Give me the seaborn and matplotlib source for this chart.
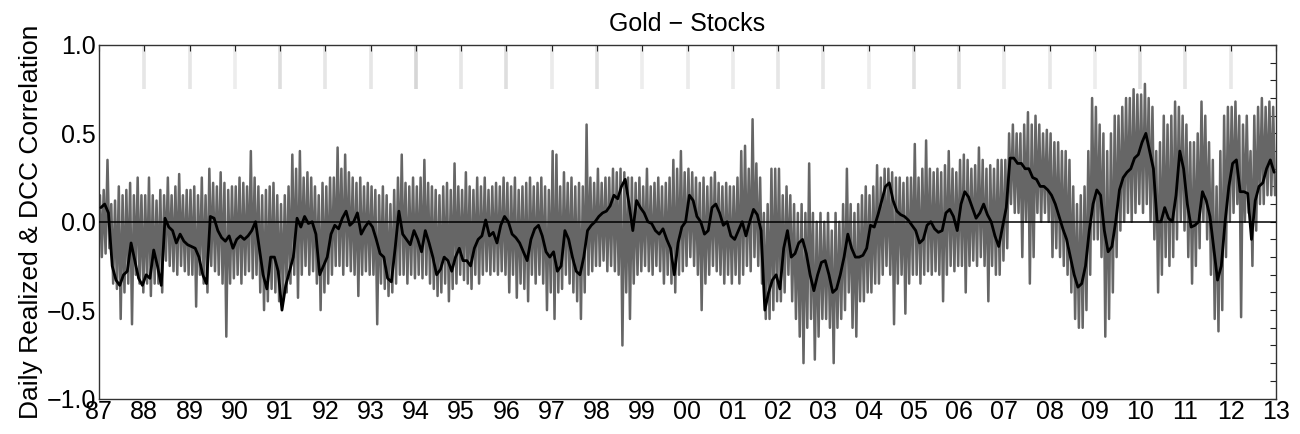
import matplotlib
matplotlib.use("Agg")
import matplotlib.pyplot as plt
from matplotlib.ticker import MultipleLocator, FixedLocator, FuncFormatter
import numpy as np
import pandas as pd
import seaborn as sns

# ---------------- data ----------------
start_year = 1987
end_year = 2013
tick_labels = ['87', '88', '89', '90', '91', '92', '93', '94', '95', '96', '97', '98', '99',
               '00', '01', '02', '03', '04', '05', '06', '07', '08', '09', '10', '11', '12', '13']

# DCC correlation, monthly (Jan..Dec per row)
dcc = [
    0.08, 0.10, 0.05, -0.25, -0.33, -0.36, -0.30, -0.28, -0.12, -0.22, -0.32, -0.36,   # 87
    -0.30, -0.32, -0.16, -0.25, -0.36, 0.02, -0.03, -0.05, -0.12, -0.07, -0.11, -0.13,  # 88
    -0.14, -0.15, -0.20, -0.30, -0.35, 0.03, 0.02, -0.05, -0.09, -0.11, -0.08, -0.15,   # 89
    -0.10, -0.08, -0.10, -0.08, -0.05, 0.00, -0.15, -0.30, -0.38, -0.20, -0.20, -0.28,  # 90
    -0.50, -0.36, -0.28, -0.20, 0.02, -0.03, 0.03, -0.01, 0.00, -0.07, -0.30, -0.25,    # 91
    -0.20, -0.07, -0.02, -0.04, 0.02, 0.06, -0.02, 0.00, 0.05, -0.07, -0.03, 0.00,      # 92
    -0.03, -0.10, -0.18, -0.20, -0.32, -0.34, -0.15, 0.06, -0.07, -0.10, -0.13, -0.05,  # 93
    -0.10, -0.17, -0.05, -0.12, -0.20, -0.30, -0.27, -0.20, -0.22, -0.28, -0.20, -0.15, # 94
    -0.22, -0.22, -0.25, -0.15, -0.10, -0.08, 0.01, -0.08, -0.06, -0.12, -0.02, 0.03,   # 95
    0.00, -0.07, -0.09, -0.12, -0.17, -0.22, -0.10, -0.04, -0.02, -0.08, -0.17, -0.20,  # 96
    -0.17, -0.28, -0.25, -0.05, -0.10, -0.20, -0.28, -0.30, -0.20, -0.05, -0.02, 0.00,  # 97
    0.03, 0.05, 0.06, 0.09, 0.15, 0.13, 0.20, 0.24, 0.10, -0.05, 0.12, 0.08,            # 98
    0.05, 0.00, -0.01, -0.05, -0.07, -0.04, -0.10, -0.15, -0.30, -0.12, -0.03, 0.00,    # 99
    0.15, 0.12, 0.03, 0.00, -0.07, -0.05, 0.08, 0.10, 0.05, -0.02, 0.00, -0.08,         # 00
    -0.10, -0.05, 0.00, -0.08, 0.00, 0.07, 0.04, -0.05, -0.50, -0.40, -0.33, -0.30,     # 01
    -0.38, -0.15, -0.05, -0.20, -0.18, -0.12, -0.10, -0.18, -0.30, -0.39, -0.30, -0.23, # 02
    -0.22, -0.30, -0.40, -0.38, -0.30, -0.20, -0.07, -0.15, -0.20, -0.20, -0.19, -0.15, # 03
    -0.02, -0.03, 0.04, 0.12, 0.20, 0.22, 0.12, 0.06, 0.04, 0.03, 0.01, -0.02,          # 04
    -0.05, -0.12, -0.10, -0.02, 0.00, -0.04, -0.06, -0.05, 0.05, 0.07, 0.03, -0.05,     # 05
    0.10, 0.17, 0.14, 0.08, 0.02, 0.05, 0.10, 0.04, 0.00, -0.08, -0.14, -0.03,          # 06
    0.08, 0.36, 0.36, 0.33, 0.33, 0.30, 0.30, 0.25, 0.24, 0.20, 0.20, 0.18,             # 07
    0.15, 0.10, 0.03, -0.04, -0.10, -0.20, -0.30, -0.37, -0.35, -0.25, -0.05, 0.10,     # 08
    0.18, 0.15, -0.05, -0.17, -0.14, 0.00, 0.18, 0.25, 0.28, 0.30, 0.36, 0.38,          # 09
    0.45, 0.50, 0.40, 0.30, 0.00, 0.00, 0.08, 0.02, 0.00, 0.15, 0.40, 0.30,             # 10
    0.10, -0.03, -0.02, 0.00, 0.17, 0.12, 0.03, -0.15, -0.33, -0.25, 0.00, 0.20,        # 11
    0.33, 0.35, 0.17, 0.17, 0.16, -0.10, 0.12, 0.20, 0.22, 0.30, 0.35, 0.28,            # 12
]

# Daily realized correlation: upper and lower extent of the band per month
realized_hi = [
    0.15, 0.18, 0.35, 0.10, 0.12, 0.20, 0.15, 0.18, 0.22, 0.15, 0.25, 0.15,   # 87
    0.15, 0.25, 0.15, 0.12, 0.18, 0.15, 0.25, 0.15, 0.20, 0.27, 0.15, 0.18,   # 88
    0.18, 0.20, 0.15, 0.25, 0.15, 0.30, 0.22, 0.20, 0.28, 0.22, 0.18, 0.20,   # 89
    0.20, 0.25, 0.22, 0.20, 0.40, 0.25, 0.20, 0.15, 0.18, 0.20, 0.22, 0.15,   # 90
    0.10, 0.15, 0.20, 0.38, 0.30, 0.40, 0.25, 0.28, 0.25, 0.20, 0.15, 0.22,   # 91
    0.20, 0.25, 0.25, 0.42, 0.30, 0.38, 0.28, 0.25, 0.22, 0.25, 0.20, 0.22,   # 92
    0.20, 0.18, 0.15, 0.20, 0.15, 0.10, 0.18, 0.25, 0.38, 0.22, 0.20, 0.25,   # 93
    0.20, 0.25, 0.35, 0.22, 0.20, 0.18, 0.15, 0.20, 0.22, 0.18, 0.33, 0.20,   # 94
    0.18, 0.28, 0.20, 0.18, 0.25, 0.20, 0.25, 0.18, 0.20, 0.22, 0.20, 0.25,   # 95
    0.22, 0.20, 0.25, 0.18, 0.20, 0.22, 0.25, 0.20, 0.22, 0.25, 0.20, 0.18,   # 96
    0.40, 0.38, 0.20, 0.28, 0.22, 0.25, 0.20, 0.22, 0.20, 0.55, 0.25, 0.22,   # 97
    0.30, 0.22, 0.25, 0.25, 0.30, 0.28, 0.30, 0.28, 0.25, 0.25, 0.22, 0.25,   # 98
    0.20, 0.30, 0.20, 0.22, 0.25, 0.20, 0.22, 0.25, 0.35, 0.30, 0.40, 0.28,   # 99
    0.30, 0.28, 0.25, 0.22, 0.25, 0.20, 0.25, 0.28, 0.22, 0.20, 0.22, 0.20,   # 00
    0.20, 0.25, 0.40, 0.43, 0.30, 0.58, 0.33, 0.25, 0.05, 0.10, 0.30, 0.30,   # 01
    0.30, 0.15, 0.20, 0.15, 0.10, 0.05, 0.10, 0.05, 0.33, 0.05, 0.00, 0.05,   # 02
    0.00, 0.05, -0.05, 0.05, 0.00, 0.10, 0.30, 0.10, 0.05, 0.10, 0.15, 0.20,  # 03
    0.15, 0.20, 0.32, 0.25, 0.30, 0.30, 0.28, 0.25, 0.25, 0.22, 0.25, 0.25,   # 04
    0.44, 0.25, 0.30, 0.46, 0.30, 0.28, 0.30, 0.28, 0.32, 0.40, 0.30, 0.28,   # 05
    0.35, 0.38, 0.35, 0.30, 0.32, 0.42, 0.35, 0.30, 0.32, 0.30, 0.35, 0.35,   # 06
    0.35, 0.50, 0.55, 0.50, 0.50, 0.55, 0.62, 0.55, 0.60, 0.55, 0.50, 0.52,   # 07
    0.50, 0.45, 0.45, 0.40, 0.40, 0.35, 0.20, 0.10, 0.15, 0.20, 0.40, 0.70,   # 08
    0.65, 0.55, 0.50, 0.40, 0.50, 0.60, 0.60, 0.65, 0.70, 0.70, 0.75, 0.72,   # 09
    0.72, 0.78, 0.70, 0.65, 0.40, 0.45, 0.60, 0.55, 0.60, 0.68, 0.65, 0.60,   # 10
    0.55, 0.45, 0.45, 0.50, 0.68, 0.60, 0.45, 0.35, 0.20, 0.40, 0.60, 0.65,   # 11
    0.65, 0.68, 0.60, 0.55, 0.60, 0.40, 0.60, 0.65, 0.70, 0.65, 0.68, 0.65,   # 12
]
realized_lo = [
    -0.20, -0.18, -0.15, -0.35, -0.38, -0.55, -0.40, -0.35, -0.58, -0.30, -0.35, -0.40,  # 87
    -0.35, -0.42, -0.35, -0.35, -0.40, -0.22, -0.25, -0.28, -0.30, -0.25, -0.28, -0.30,  # 88
    -0.30, -0.48, -0.30, -0.35, -0.40, -0.25, -0.28, -0.30, -0.35, -0.65, -0.35, -0.32,  # 89
    -0.30, -0.35, -0.30, -0.28, -0.32, -0.30, -0.40, -0.50, -0.45, -0.38, -0.40, -0.45,  # 90
    -0.45, -0.40, -0.35, -0.30, -0.43, -0.30, -0.25, -0.30, -0.28, -0.35, -0.50, -0.40,  # 91
    -0.35, -0.30, -0.25, -0.25, -0.30, -0.25, -0.28, -0.30, -0.42, -0.30, -0.28, -0.30,  # 92
    -0.30, -0.58, -0.35, -0.38, -0.42, -0.40, -0.35, -0.30, -0.30, -0.35, -0.30, -0.32,  # 93
    -0.30, -0.32, -0.30, -0.35, -0.38, -0.42, -0.40, -0.35, -0.45, -0.38, -0.35, -0.30,  # 94
    -0.33, -0.35, -0.38, -0.30, -0.35, -0.30, -0.28, -0.30, -0.28, -0.30, -0.28, -0.30,  # 95
    -0.40, -0.30, -0.43, -0.35, -0.38, -0.45, -0.30, -0.35, -0.30, -0.35, -0.50, -0.40,  # 96
    -0.55, -0.40, -0.38, -0.30, -0.35, -0.40, -0.45, -0.55, -0.40, -0.30, -0.28, -0.25,  # 97
    -0.25, -0.22, -0.28, -0.25, -0.28, -0.30, -0.70, -0.40, -0.55, -0.35, -0.30, -0.28,  # 98
    -0.25, -0.28, -0.30, -0.25, -0.28, -0.35, -0.30, -0.35, -0.40, -0.30, -0.28, -0.25,  # 99
    -0.20, -0.25, -0.30, -0.50, -0.35, -0.30, -0.25, -0.28, -0.30, -0.35, -0.30, -0.35,  # 00
    -0.30, -0.35, -0.30, -0.25, -0.28, -0.20, -0.25, -0.35, -0.55, -0.55, -0.50, -0.45,  # 01
    -0.45, -0.40, -0.30, -0.45, -0.55, -0.65, -0.80, -0.60, -0.55, -0.78, -0.65, -0.55,  # 02
    -0.55, -0.60, -0.80, -0.60, -0.55, -0.50, -0.40, -0.60, -0.65, -0.45, -0.45, -0.40,  # 03
    -0.40, -0.35, -0.35, -0.30, -0.25, -0.30, -0.58, -0.35, -0.30, -0.52, -0.35, -0.30,  # 04
    -0.30, -0.35, -0.30, -0.28, -0.30, -0.28, -0.30, -0.45, -0.30, -0.25, -0.28, -0.25,  # 05
    -0.25, -0.40, -0.25, -0.22, -0.25, -0.20, -0.25, -0.45, -0.25, -0.30, -0.30, -0.22,  # 06
    -0.15, 0.10, 0.05, 0.05, -0.20, 0.00, -0.35, -0.20, 0.05, 0.00, 0.05, 0.00,          # 07
    -0.20, -0.15, -0.20, -0.25, -0.30, -0.40, -0.55, -0.60, -0.60, -0.50, -0.30, -0.10,  # 08
    -0.10, -0.20, -0.65, -0.55, -0.40, -0.20, -0.05, 0.00, 0.05, 0.00, 0.05, 0.10,       # 09
    0.05, 0.10, 0.00, -0.10, -0.40, -0.30, -0.20, -0.25, -0.20, -0.10, 0.00, -0.05,      # 10
    -0.20, -0.35, -0.25, -0.15, 0.00, -0.10, -0.30, -0.55, -0.62, -0.50, -0.20, 0.00,    # 11
    0.05, 0.10, -0.54, 0.00, 0.05, -0.25, -0.05, 0.10, 0.10, 0.15, 0.15, 0.15,           # 12
]

# light-gray year markers along the top (1988..2012), gray levels
marker_years = list(range(1988, 2013))
marker_gray = [0.90, 0.90, 0.93, 0.87, 0.90, 0.90, 0.84, 0.90, 0.87, 0.92, 0.88, 0.93,
               0.92, 0.92, 0.90, 0.90, 0.93, 0.88, 0.88, 0.92, 0.91, 0.93, 0.88, 0.90, 0.91]

# ---------------- build frames ----------------
n = len(dcc)
t_month = start_year + np.arange(n) / 12.0
df_dcc = pd.DataFrame({"t": t_month + 1 / 24, "corr": dcc})

t_g, v_g = [], []
for i in range(n):
    t_g += [t_month[i] + 1 / 48, t_month[i] + 3 / 48]
    v_g += [realized_hi[i], realized_lo[i]]
df_real = pd.DataFrame({"t": t_g, "corr": v_g})

# ---------------- plot ----------------
sns.set_theme(style="white")
plt.rcParams["font.family"] = ["Liberation Sans", "DejaVu Sans"]
for key in ["text.color", "axes.labelcolor", "xtick.color", "ytick.color"]:
    plt.rcParams[key] = "black"

fig = plt.figure(figsize=(13, 4.34), dpi=100)
ax = fig.add_axes([99 / 1300, 1 - 398.5 / 434, 1177 / 1300, 353.5 / 434])

ax.vlines(marker_years, 0.75, 1.0, colors=[str(g) for g in marker_gray], lw=2.6, zorder=0)

sns.lineplot(data=df_real, x="t", y="corr", ax=ax, color="#666666", lw=1.8,
             estimator=None, sort=False, zorder=2)
ax.axhline(0, color="black", lw=1.1, zorder=3)
sns.lineplot(data=df_dcc, x="t", y="corr", ax=ax, color="black", lw=2.0,
             estimator=None, sort=False, zorder=4)

ax.set_xlim(start_year, end_year)
ax.set_ylim(-1, 1)
ax.xaxis.set_major_locator(FixedLocator(list(range(start_year, end_year + 1))))
ax.set_xticklabels(tick_labels)
ax.yaxis.set_major_locator(MultipleLocator(0.5))
ax.yaxis.set_minor_locator(MultipleLocator(0.1))
ax.yaxis.set_major_formatter(FuncFormatter(lambda v, p: ("%.1f" % v).replace("-", "−")))
ax.tick_params(axis="both", which="both", direction="in", top=True, right=True,
               labelsize=18, length=4, width=0.8, color="#222222")
ax.tick_params(axis="x", pad=1)
ax.tick_params(axis="y", pad=2)

ax.set_xlabel("")
ax.set_ylabel("Daily Realized & DCC Correlation", fontsize=19, labelpad=3)
ax.set_title("Gold − Stocks", fontsize=18, pad=10)
for s in ax.spines.values():
    s.set_color("#333333")
    s.set_linewidth(1.0)

fig.savefig("out.png", dpi=100)
